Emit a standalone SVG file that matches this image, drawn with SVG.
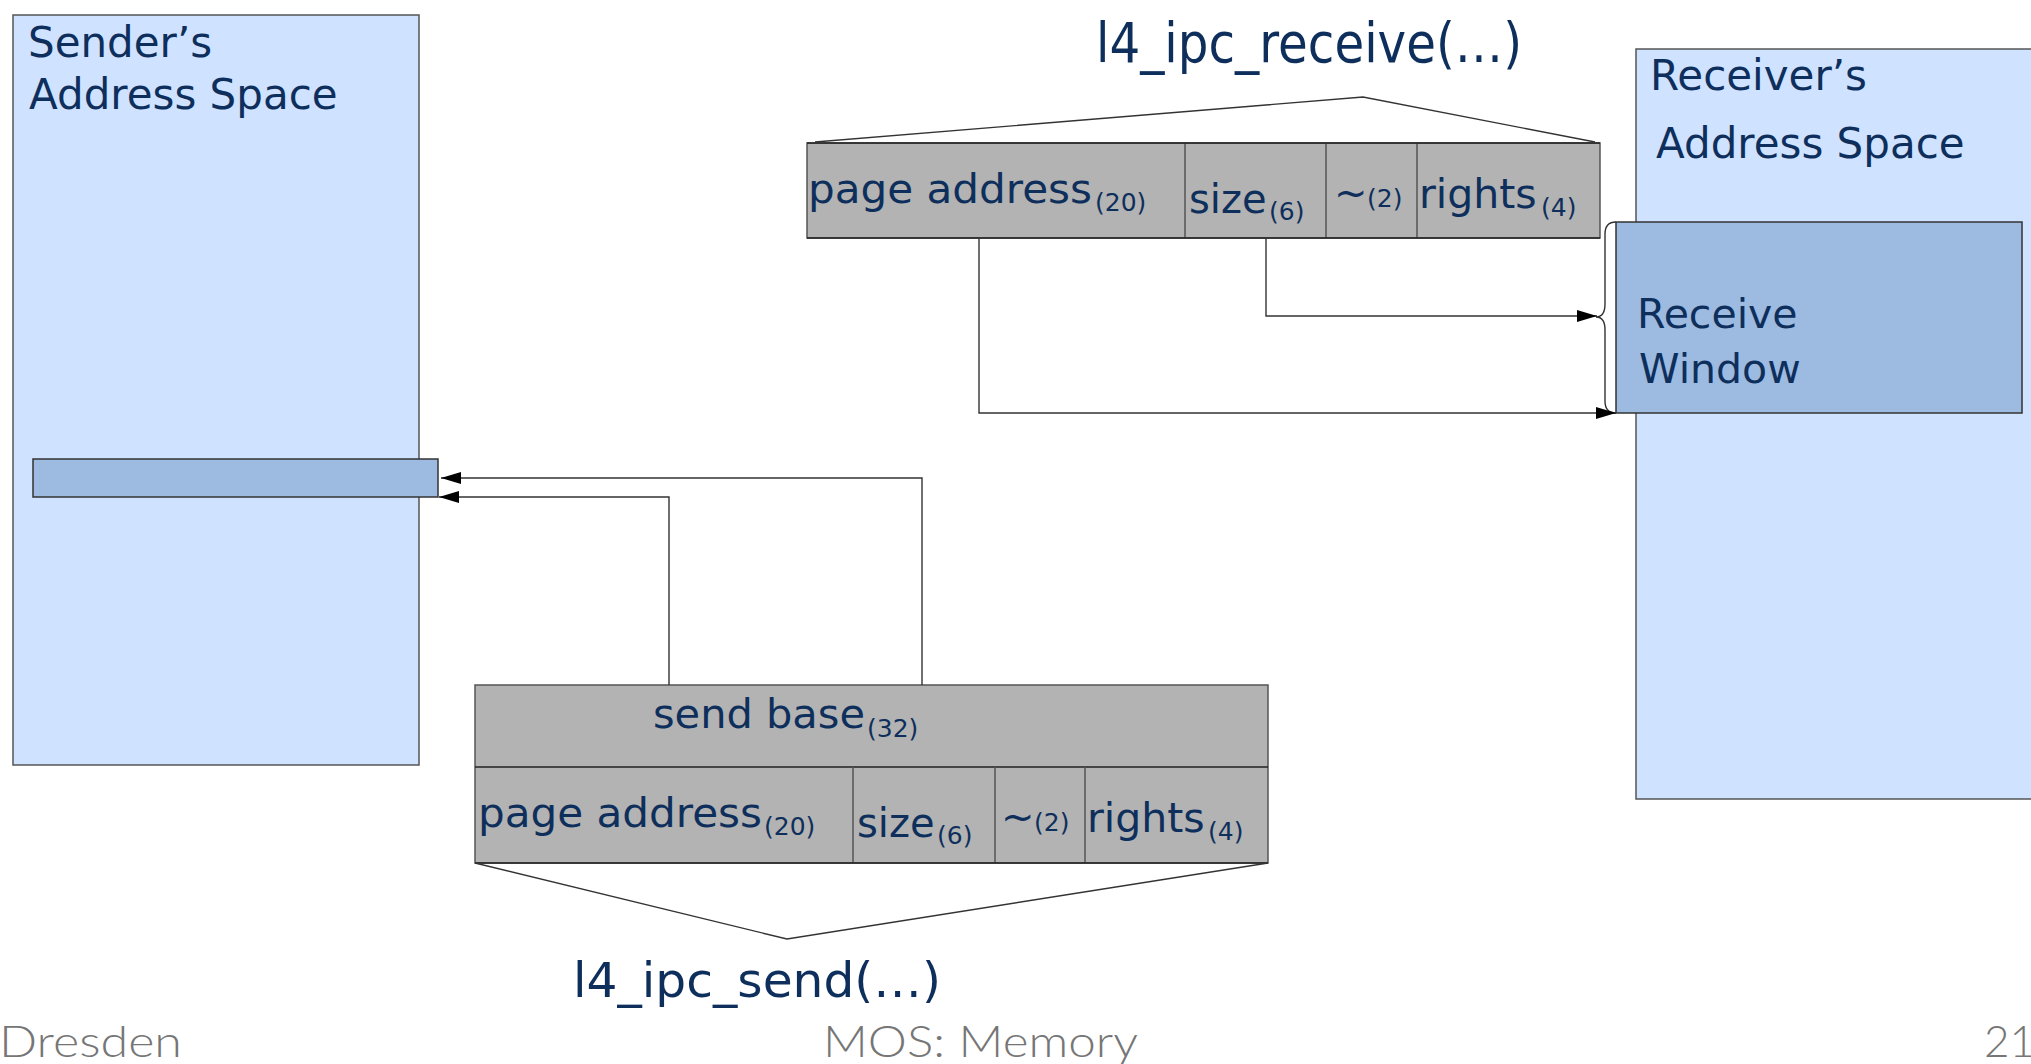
<svg xmlns="http://www.w3.org/2000/svg" width="2031" height="1064" viewBox="0 0 2031 1064">
<defs>
<style>
.t{font-family:"DejaVu Sans","Liberation Sans",sans-serif;fill:#0e2f5c}
.f{font-family:Lato,"Liberation Sans",sans-serif;fill:#767676;font-size:44px;font-weight:300}
.as{fill:#cfe2ff;stroke:#555;stroke-width:1.5}
.win{fill:#9dbbe1;stroke:#333;stroke-width:1.5}
.cell{fill:#b3b3b3;stroke:#555;stroke-width:1.5}
.edge{fill:none;stroke:#222;stroke-width:1.6}
.div{stroke:#555;stroke-width:1.5}
.ln{fill:none;stroke:#333;stroke-width:1.4}
.m{font-size:40px}
.s{font-size:25px}
</style>
<marker id="ah" viewBox="0 0 20 12" refX="20" refY="6" markerWidth="20" markerHeight="12" markerUnits="userSpaceOnUse" orient="auto">
<path d="M0,0 L20,6 L0,12 z" fill="#000"/>
</marker>
</defs>
<rect width="2031" height="1064" fill="#fff"/>

<g id="sender">
<rect class="as" x="13" y="15" width="406" height="750"/>
<text class="t" x="28" y="57" font-size="42">Sender’s</text>
<text class="t" x="29" y="109" font-size="42">Address Space</text>
</g>
<g id="send-target">
<rect class="win" x="33" y="459" width="405" height="38"/>
</g>

<g id="receiver">
<rect class="as" x="1636" y="49" width="420" height="750"/>
<text class="t" x="1650" y="90" font-size="42">Receiver’s</text>
<text class="t" x="1656" y="158" font-size="42">Address Space</text>
</g>
<g id="receive-window">
<rect class="win" x="1616" y="222" width="406" height="191"/>
<text class="t" x="1637" y="328" font-size="41">Receive</text>
<text class="t" x="1639" y="383" font-size="41">Window</text>
</g>

<g id="receive-descriptor">
<rect class="cell" x="807" y="143" width="793" height="95"/>
<line class="div" x1="1185" y1="143" x2="1185" y2="238"/>
<line class="div" x1="1326" y1="143" x2="1326" y2="238"/>
<line class="div" x1="1417" y1="143" x2="1417" y2="238"/>
<line class="edge" x1="807" y1="143" x2="1600" y2="143"/>
<line class="edge" x1="807" y1="238" x2="1600" y2="238"/>
<text class="t m" x="808" y="203" textLength="284" lengthAdjust="spacingAndGlyphs">page address</text>
<text class="t s" x="1095" y="211">(20)</text>
<text class="t m" x="1189" y="213">size</text>
<text class="t s" x="1269" y="220">(6)</text>
<text class="t m" x="1334" y="207">~</text>
<text class="t s" x="1367" y="207">(2)</text>
<text class="t" x="1419" y="208" font-size="41">rights</text>
<text class="t s" x="1541" y="216">(4)</text>
</g>
<g id="receive-title">
<polyline class="ln" points="815,142 1363,97 1595,142"/>
<text class="t" x="1096" y="62" font-size="56" textLength="426" lengthAdjust="spacingAndGlyphs">l4_ipc_receive(…)</text>
</g>

<g id="send-descriptor">
<rect class="cell" x="475" y="685" width="793" height="178"/>
<line class="edge" x1="475" y1="767" x2="1268" y2="767"/>
<line class="div" x1="853" y1="767" x2="853" y2="863"/>
<line class="div" x1="995" y1="767" x2="995" y2="863"/>
<line class="div" x1="1085" y1="767" x2="1085" y2="863"/>
<line class="edge" x1="475" y1="863" x2="1268" y2="863"/>
<text class="t" x="653" y="728" font-size="41.5">send base</text>
<text class="t s" x="867" y="737">(32)</text>
<text class="t m" x="478" y="827" textLength="284" lengthAdjust="spacingAndGlyphs">page address</text>
<text class="t s" x="764" y="835">(20)</text>
<text class="t m" x="857" y="837">size</text>
<text class="t s" x="937" y="844">(6)</text>
<text class="t m" x="1001" y="831">~</text>
<text class="t s" x="1034" y="831">(2)</text>
<text class="t" x="1087" y="832" font-size="41">rights</text>
<text class="t s" x="1208" y="840">(4)</text>
</g>
<g id="send-title">
<polyline class="ln" points="475,863 787,939 1268,863"/>
<text class="t" x="573" y="997" font-size="48" textLength="368" lengthAdjust="spacingAndGlyphs">l4_ipc_send(…)</text>
</g>

<g id="brace">
<path class="ln" d="M1616,222 Q1605,222 1605,234 L1605,304 Q1605,317 1596,317 Q1605,317 1605,330 L1605,401 Q1605,413 1616,413"/>
</g>

<g id="connectors">
<polyline class="ln" points="922,685 922,478 441,478" marker-end="url(#ah)"/>
<polyline class="ln" points="669,685 669,497 439,497" marker-end="url(#ah)"/>
<polyline class="ln" points="979,238 979,413 1616,413" marker-end="url(#ah)"/>
<polyline class="ln" points="1266,238 1266,316 1597,316" marker-end="url(#ah)"/>
</g>

<g id="footer">
<text class="f" x="-1" y="1057" textLength="183" lengthAdjust="spacingAndGlyphs">Dresden</text>
<text class="f" x="823" y="1057" textLength="315" lengthAdjust="spacingAndGlyphs">MOS: Memory</text>
<text class="f" x="1984" y="1057">21</text>
</g>
</svg>
